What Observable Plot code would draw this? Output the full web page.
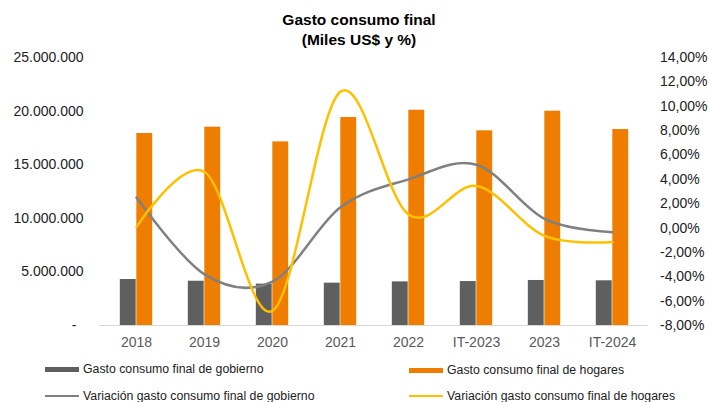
<!DOCTYPE html>
<html>
<head>
<meta charset="utf-8">
<script src="https://cdn.jsdelivr.net/npm/d3@7"></script>
<script src="https://cdn.jsdelivr.net/npm/@observablehq/plot@0.6"></script>
<style>
  body { margin: 0; background: #fff; }
  #wrap { position: relative; width: 709px; height: 402px; font-family: "Liberation Sans", Arial, sans-serif; overflow: hidden; }
  #chart { position: absolute; left: 0; top: 0; }
  #title { position: absolute; left: 0; top: 10px; width: 718px; text-align: center; font-weight: bold; font-size: 15.5px; line-height: 20px; color: #000; }
  .leg { position: absolute; height: 16px; display: flex; align-items: center; font-size: 12.3px; color: #222; white-space: nowrap; }
  .sw { width: 34px; margin-right: 4px; }
</style>
</head>
<body>
<div id="wrap">
  <div id="chart"></div>
  <div id="title">Gasto consumo final<br>(Miles US$ y %)</div>
  <div id="legend"></div>
</div>
<script>
const categories = ["2018", "2019", "2020", "2021", "2022", "IT-2023", "2023", "IT-2024"];
const gobierno = [4290000, 4130000, 3860000, 3950000, 4070000, 4100000, 4200000, 4170000];
const hogares = [17910000, 18500000, 17130000, 19400000, 20080000, 18160000, 19990000, 18280000];
const varGobierno = [2.5, -3.8, -4.4, 1.7, 4.0, 5.2, 0.75, -0.35];
const varHogares = [0.1, 4.6, -6.8, 11.2, 1.1, 3.45, -0.65, -1.15];
const leftTicks = [0, 5000000, 10000000, 15000000, 20000000, 25000000];
const rightTicks = [-8, -6, -4, -2, 0, 2, 4, 6, 8, 10, 12, 14];
const seriesNames = [
  "Gasto consumo final de gobierno",
  "Gasto consumo final de hogares",
  "Variación gasto consumo final de gobierno",
  "Variación gasto consumo final de hogares"
];
const colors = ["#5f5f5f", "#ee7d00", "#808080", "#ffc000"];

const yMax = 25000000, pMin = -8, pMax = 14;
const toLeft = p => (p - pMin) / (pMax - pMin) * yMax;
const fromLeft = v => v / yMax * (pMax - pMin) + pMin;

const rows = categories.map((c, i) => ({
  cat: c, gov: gobierno[i], hog: hogares[i],
  vg: toLeft(varGobierno[i]), vh: toLeft(varHogares[i])
}));

const width = 709, marginLeft = 99, marginRight = 61;
const band = (width - marginLeft - marginRight) / categories.length;
const barW = 16.5;
const half = band / 2;

const fmtLeft = d => d === 0 ? "-\u2002" : d3.format(",")(d).replace(/,/g, ".");
const fmtRight = v => {
  const p = Math.round(fromLeft(v) * 100) / 100;
  return p.toFixed(2).replace(".", ",") + "%";
};

const chart = Plot.plot({
  width, height: 402,
  marginLeft, marginRight, marginTop: 57, marginBottom: 77,
  style: { fontFamily: "'Liberation Sans', Arial, sans-serif", fontSize: "14px", background: "transparent" },
  x: { type: "band", domain: categories, padding: 0 },
  y: { domain: [0, yMax] },
  marks: [
    Plot.barY(rows, { x: "cat", y: "gov", fill: colors[0], insetLeft: half - barW, insetRight: half }),
    Plot.barY(rows, { x: "cat", y: "hog", fill: colors[1], insetLeft: half, insetRight: half - barW }),
    Plot.ruleY([0], { stroke: "#d9d9d9", strokeWidth: 1 }),
    Plot.lineY(rows, { x: "cat", y: "vg", stroke: colors[2], strokeWidth: 2.5, curve: "cardinal" }),
    Plot.lineY(rows, { x: "cat", y: "vh", stroke: colors[3], strokeWidth: 2.5, curve: "cardinal" }),
    Plot.axisX({ tickSize: 0, tickPadding: 12, fill: "#595959", fontSize: 14, label: null }),
    Plot.axisY({ anchor: "left", ticks: leftTicks, tickFormat: fmtLeft, tickSize: 0, tickPadding: 16, fill: "#222", fontSize: 14, label: null }),
    Plot.axisY({ anchor: "right", ticks: rightTicks.map(toLeft), tickFormat: fmtRight, tickSize: 0, tickPadding: 11.5, fill: "#222", fontSize: 14, label: null })
  ]
});
document.getElementById("chart").appendChild(chart);

// legend
const legendPos = [
  { left: 45, top: 361, kind: "bar" },
  { left: 409, top: 362, kind: "bar" },
  { left: 45, top: 388, kind: "line" },
  { left: 409, top: 388, kind: "line" }
];
const leg = document.getElementById("legend");
seriesNames.forEach((name, i) => {
  const p = legendPos[i];
  const d = document.createElement("div");
  d.className = "leg";
  d.style.left = p.left + "px";
  d.style.top = p.top + "px";
  const sw = document.createElement("span");
  sw.className = "sw";
  sw.style.background = colors[i];
  sw.style.height = p.kind === "bar" ? "5px" : "2.5px";
  d.appendChild(sw);
  d.appendChild(document.createTextNode(name));
  leg.appendChild(d);
});
</script>
</body>
</html>
